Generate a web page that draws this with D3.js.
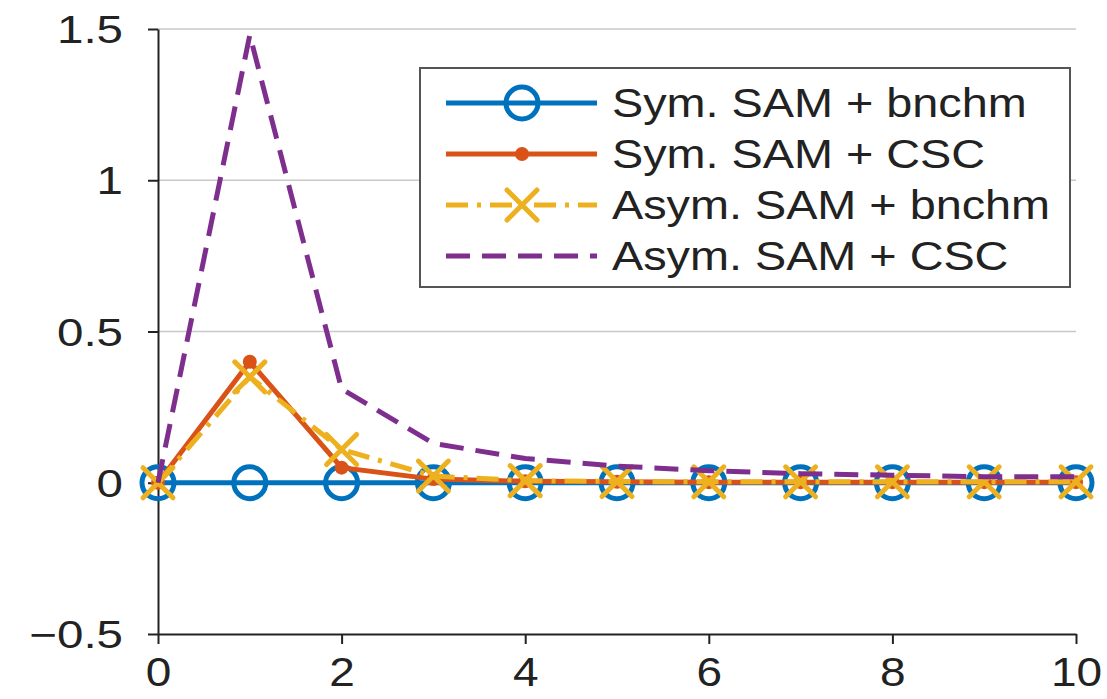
<!DOCTYPE html>
<meta charset="utf-8">
<style>
  body { margin: 0; background: #fff; }
  text { font-family: "Liberation Sans", Arial, sans-serif; fill: #222; }
</style>
<svg width="1107" height="699"></svg>
<script src="https://d3js.org/d3.v7.min.js"></script>
<script>

// data
var steps = [0, 1, 2, 3, 4, 5, 6, 7, 8, 9, 10];
var symBnchm  = [0, 0, 0, 0, 0, 0, 0, 0, 0, 0, 0];
var symCsc    = [0, 0.40, 0.05, 0.012, 0.005, 0.003, 0.002, 0.002, 0.002, 0.002, 0.002];
var asymBnchm = [0, 0.35, 0.11, 0.022, 0.007, 0.004, 0.003, 0.003, 0.003, 0.003, 0.003];
var asymCsc   = [0, 1.48, 0.31, 0.13, 0.08, 0.055, 0.04, 0.03, 0.025, 0.02, 0.02];
var yTicks = [-0.5, 0, 0.5, 1, 1.5];
var xTicks = [0, 2, 4, 6, 8, 10];

var series = [
  {name: "Sym. SAM + bnchm",  values: symBnchm,  color: "#0072BD", dash: null,       marker: "circle"},
  {name: "Sym. SAM + CSC",    values: symCsc,    color: "#D95319", dash: null,       marker: "dot"},
  {name: "Asym. SAM + bnchm", values: asymBnchm, color: "#EDB120", dash: "22,9,4,9", marker: "x"},
  {name: "Asym. SAM + CSC",   values: asymCsc,   color: "#7E2F8E", dash: "24,12",    marker: null}
];

var svg = d3.select("svg"),
    margin = {top: 29, right: 31, bottom: 65, left: 158},
    width = +svg.attr("width") - margin.left - margin.right,
    height = +svg.attr("height") - margin.top - margin.bottom,
    g = svg.append("g").attr("transform", "translate(" + margin.left + "," + margin.top + ")");

var x = d3.scaleLinear().domain([0, 10]).range([0, width]);
var y = d3.scaleLinear().domain([-0.5, 1.5]).range([height, 0]);

// grid
g.append("g")
  .selectAll("line")
  .data(yTicks.filter(function(d) { return d > -0.5; }))
  .join("line")
    .attr("x1", 0).attr("x2", width)
    .attr("y1", function(d) { return y(d); })
    .attr("y2", function(d) { return y(d); })
    .attr("stroke", "#c8c8c8")
    .attr("stroke-width", 1.5);

var fmt = function(d) { return d < 0 ? "\u2212" + Math.abs(d) : String(d); };

var xAxis = g.append("g")
  .attr("transform", "translate(0," + height + ")")
  .call(d3.axisBottom(x).tickValues(xTicks).tickSize(10).tickSizeOuter(0).tickPadding(14));

var yAxis = g.append("g")
  .call(d3.axisLeft(y).tickValues(yTicks).tickFormat(fmt).tickSize(10).tickSizeOuter(0).tickPadding(18));

[xAxis, yAxis].forEach(function(a) {
  a.select(".domain").attr("stroke", "#222").attr("stroke-width", 2);
  a.selectAll(".tick line").attr("stroke", "#222").attr("stroke-width", 2);
  a.selectAll(".tick text").attr("fill", "#222");
});
xAxis.selectAll(".tick text").style("font-size", "40px").attr("transform", "scale(1.15,1)");
yAxis.selectAll(".tick text").style("font-size", "38px").attr("dy", "0.36em")
  .attr("transform", "scale(1.25,1)");

var line = d3.line()
  .x(function(d, i) { return x(steps[i]); })
  .y(function(d) { return y(d); });

function drawMarker(sel, s, cx, cy) {
  if (s.marker === "circle") {
    sel.append("circle").attr("cx", cx).attr("cy", cy).attr("r", 16)
      .attr("fill", "none").attr("stroke", s.color).attr("stroke-width", 5);
  } else if (s.marker === "dot") {
    sel.append("circle").attr("cx", cx).attr("cy", cy).attr("r", 7)
      .attr("fill", s.color);
  } else if (s.marker === "x") {
    var r = 15;
    sel.append("path")
      .attr("d", "M" + (cx - r) + "," + (cy - r) + "L" + (cx + r) + "," + (cy + r) +
                 "M" + (cx - r) + "," + (cy + r) + "L" + (cx + r) + "," + (cy - r))
      .attr("stroke", s.color).attr("stroke-width", 5).attr("stroke-linecap", "round");
  }
}

series.forEach(function(s) {
  var sg = g.append("g");
  sg.append("path")
    .datum(s.values)
    .attr("fill", "none")
    .attr("stroke", s.color)
    .attr("stroke-width", 5)
    .attr("stroke-dasharray", s.dash)
    .attr("d", line);
  s.values.forEach(function(v, i) { drawMarker(sg, s, x(steps[i]), y(v)); });
});

// legend
var lg = svg.append("g").attr("transform", "translate(420,68)");
lg.append("rect")
  .attr("width", 650).attr("height", 219)
  .attr("fill", "#fff").attr("stroke", "#555").attr("stroke-width", 2);

series.forEach(function(s, i) {
  var cy = 35 + i * 51;
  var row = lg.append("g");
  row.append("line")
    .attr("x1", 26).attr("x2", 177)
    .attr("y1", cy).attr("y2", cy)
    .attr("stroke", s.color).attr("stroke-width", 5)
    .attr("stroke-dasharray", s.dash);
  drawMarker(row, s, 102, cy);
  row.append("text")
    .attr("transform", "translate(192," + cy + ") scale(1.17,1)")
    .attr("dy", "0.36em")
    .style("font-size", "40px")
    .text(s.name);
});

</script>
